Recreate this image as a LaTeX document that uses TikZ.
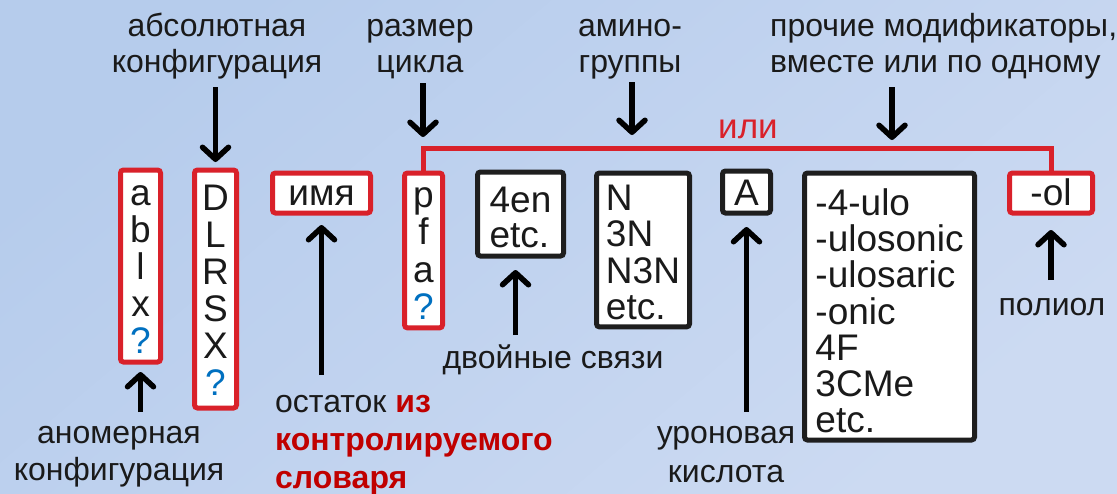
\documentclass[tikz,border=0pt]{standalone}
\usepackage{fontspec}
\setmainfont{Liberation Sans}
\usetikzlibrary{arrows.meta}

\definecolor{bgA}{RGB}{182,204,236}
\definecolor{bgB}{RGB}{222,229,245}
\definecolor{bgC}{RGB}{204,218,242}
\definecolor{boxred}{RGB}{217,33,42}
\definecolor{dred}{RGB}{192,0,0}
\definecolor{qblue}{RGB}{0,112,192}
\definecolor{ink}{RGB}{26,26,26}
\definecolor{boxblack}{RGB}{30,30,30}

% invisible strut: height #1 above the baseline, depth #2 below it
\newcommand\vfix[2]{\rule[-#2pt]{0pt}{\dimexpr #1pt + #2pt\relax}}
% strut for the caption lines
\newcommand\lst{\rule[-9pt]{0pt}{33pt}}
\newcommand\qm{{\color{qblue}?}}
\newcommand\rb[1]{{\bfseries\color{dred}#1}}

\tikzset{
  x=1pt, y=-1pt,
  lbl/.style={inner sep=0pt, text=ink, align=center,
    font=\fontsize{32}{36}\selectfont},
  abox/.style={line width=5pt, fill=white, rounded corners=3pt,
    inner sep=0pt, text=ink, anchor=north,
    font=\fontsize{37}{37}\selectfont},
  redbox/.style={abox, draw=boxred},
  blkbox/.style={abox, draw=boxblack},
  arr/.style={line width=5.5pt, draw=black,
    -{Straight Barb[length=12pt, width=26pt, round]}},
  orline/.style={line width=5pt, draw=boxred},
}

\begin{document}
\begin{tikzpicture}
  % background
  \shade[top color=bgA, middle color=bgB, bottom color=bgC, shading angle=40]
    (0,0) rectangle (1117,493);
  \useasboundingbox (0,0) rectangle (1117,493);

  % ---- boxes of the name pattern ----
  \node[redbox, minimum width=40pt, align=center] (ab) at (140.5,167.5)
    {\vfix{35.5}{0}a\\b\\l\\x\\\qm\vfix{0}{8.5}};
  \node[redbox, minimum width=42pt, align=center] (DL) at (215.5,167.5)
    {\vfix{40.5}{0}D\\L\\R\\S\\X\\\qm\vfix{0}{12.5}};
  \node[redbox, minimum width=98pt, align=center] (name) at (321.5,170.5)
    {\vfix{32.5}{7.5}имя};
  \node[redbox, minimum width=38pt, align=center,
        font=\fontsize{37}{37.3}\selectfont] (pf) at (423.5,170.5)
    {\vfix{34.5}{0}p\\f\\a\\\qm\vfix{0}{8.5}};
  \node[blkbox, minimum width=86pt, align=left,
        font=\fontsize{37}{35}\selectfont] (en) at (520.5,169.5)
    {\vfix{40.5}{0}4en\\etc.\vfix{0}{8.5}};
  \node[blkbox, minimum width=93pt, align=left,
        font=\fontsize{37}{36.3}\selectfont] (amino) at (643,170.5)
    {\vfix{37.5}{0}N\\3N\\N3N\\etc.\vfix{0}{7.5}};
  \node[blkbox, minimum width=48pt, align=center] (acid) at (746.5,168.5)
    {\vfix{34.5}{7.5}A};
  \node[blkbox, minimum width=170pt, align=left,
        font=\fontsize{37}{36.17}\selectfont] (mods) at (889.5,170.5)
    {\vfix{42.5}{0}-4-ulo\\-ulosonic\\-ulosaric\\-onic\\4F\\3CMe\\etc.\vfix{0}{7.5}};
  \node[redbox, minimum width=83pt, align=center] (ol) at (1051,170.5)
    {\vfix{32.5}{7.5}-ol};

  % ---- "или" bracket over the alternative modifiers ----
  \coordinate (ringtap)  at (423,148);
  \coordinate (aminotap) at (632,148);
  \coordinate (modtap)   at (892,148);
  \draw[orline] (pf.north) |- (aminotap) -| (ol.north);
  \node[inner sep=0pt, anchor=base, text=boxred,
        font=\fontsize{35}{36}\selectfont] (ili) at (748,138) {или};

  % ---- captions ----
  \node[lbl, anchor=north] (lblabs) at (217,12)
    {\lst абсолютная\\\lst конфигурация};
  \node[lbl, anchor=north] (lblring) at (420,12)
    {\lst размер\\\lst цикла};
  \node[lbl, anchor=north] (lblamino) at (630,12)
    {\lst амино-\\\lst группы};
  \node[lbl, anchor=north west, align=left] (lblmod) at (770,12)
    {\lst прочие модификаторы,\\\lst вместе или по одному};
  \node[lbl, anchor=north, font=\fontsize{32}{37}\selectfont] (lblano) at (119,419)
    {\lst аномерная\\\lst конфигурация};
  \node[lbl, anchor=north west, align=left, font=\fontsize{32}{38}\selectfont]
    (lblres) at (275,388)
    {\lst остаток \rb{из}\\\lst\rb{контролируемого}\\\lst\rb{словаря}};
  \node[lbl, anchor=north] (lbldbl) at (553,344) {\lst двойные связи};
  \node[lbl, anchor=north, font=\fontsize{32}{39}\selectfont] (lbluron) at (726,419)
    {\lst уроновая\\\lst кислота};
  \node[lbl, anchor=north] (lblpoly) at (1052,291) {\lst полиол};

  % ---- arrows from captions ----
  \draw[arr, shorten <=6pt, shorten >=5.5pt] (DL.north |- lblabs.south) -- (DL.north);
  \draw[arr, shorten <=2pt, shorten >=11pt] (ringtap |- lblring.south) -- (ringtap);
  \draw[arr, shorten <=1pt, shorten >=13pt] (aminotap |- lblamino.south) -- (aminotap);
  \draw[arr, shorten <=6pt, shorten >=8pt] (modtap |- lblmod.south) -- (modtap);

  \draw[arr, shorten <=7pt, shorten >=7.5pt] (ab.south |- lblano.north) -- (ab.south);
  \draw[arr, shorten <=13pt, shorten >=9.5pt] (name.south |- lblres.north) -- (name.south);
  \draw[arr, shorten <=9pt, shorten >=11.5pt]
    ([xshift=-5pt]en.south |- lbldbl.north) -- ([xshift=-5pt]en.south);
  \draw[arr, shorten <=7pt, shorten >=11.5pt] (acid.south |- lbluron.north) -- (acid.south);
  \draw[arr, shorten <=11pt, shorten >=14.5pt] (ol.south |- lblpoly.north) -- (ol.south);
\end{tikzpicture}
\end{document}
